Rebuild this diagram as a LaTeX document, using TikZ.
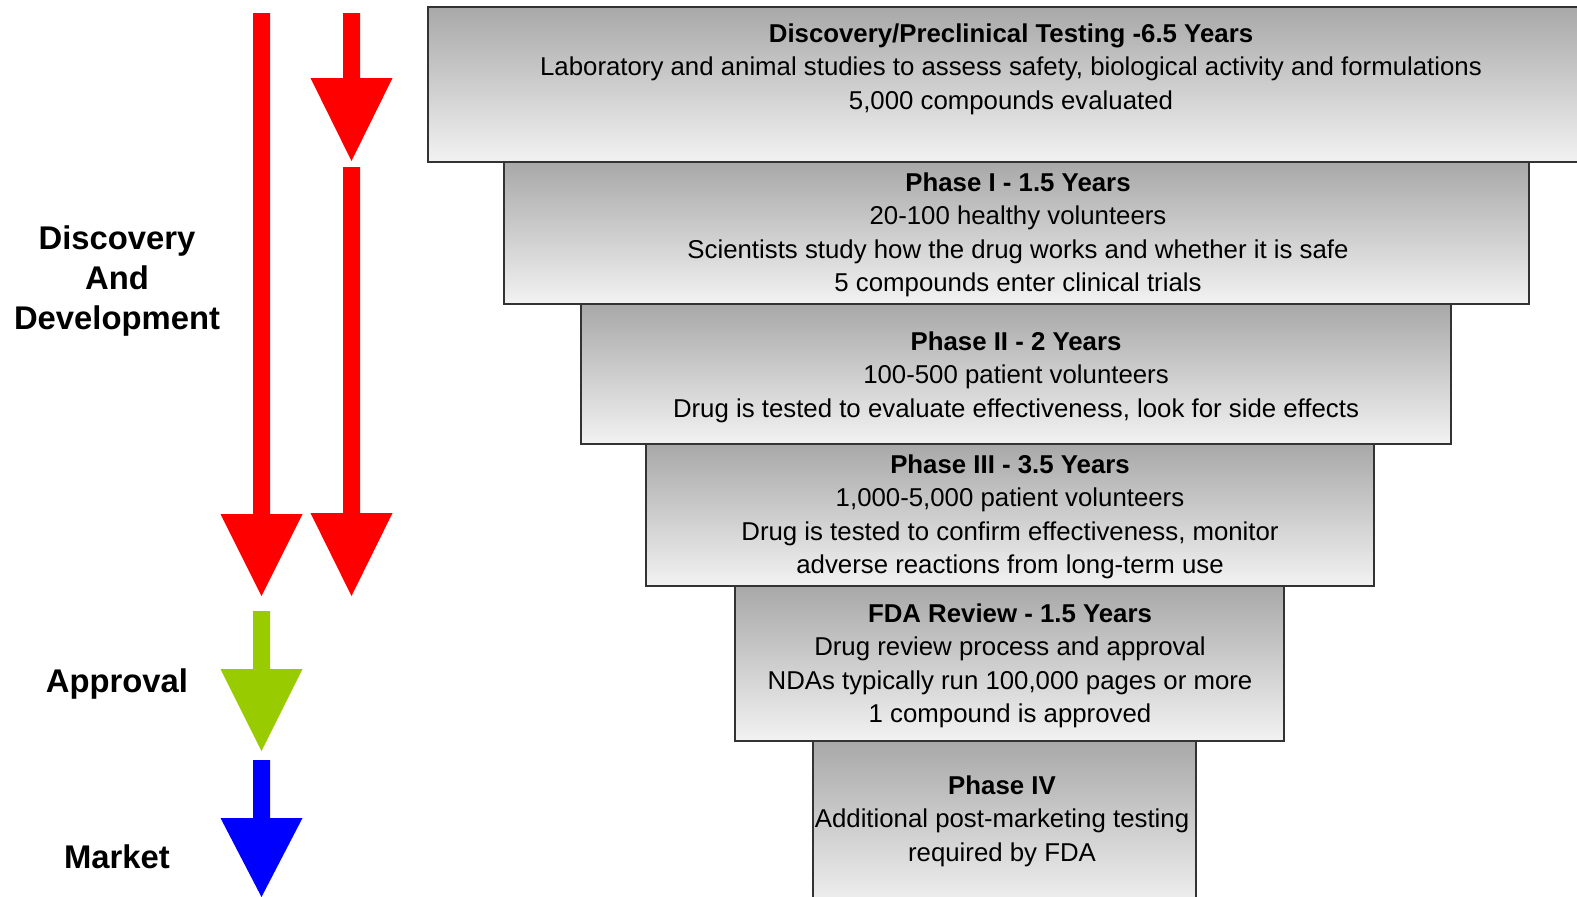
\documentclass[tikz,border=0pt]{standalone}
\usepackage{fontspec}
\setmainfont{Liberation Sans}
\usetikzlibrary{fit}

% block arrow pointing down: colour, x of shaft, top, start of head, tip
\newcommand{\blockarrow}[5]{%
  \fill[#1] (#2-8.5,#3) -- (#2+8.5,#3) -- (#2+8.5,#4) -- (#2+41,#4) -- (#2,#5)
    -- (#2-41,#4) -- (#2-8.5,#4) -- cycle;}

\definecolor{arrowred}{HTML}{FF0000}
\definecolor{arrowgreen}{HTML}{99CC00}
\definecolor{arrowblue}{HTML}{0000FF}

\begin{document}
\begin{tikzpicture}[x=0.5pt, y=-0.5pt,
  phase/.style={draw=black!80, line width=1pt, top color=black!34, bottom color=black!5, inner sep=0pt},
  phasetext/.style={align=center, font=\fontsize{12.9}{16.75}\selectfont},
  stage/.style={align=center, font=\fontsize{16.4}{20}\selectfont\bfseries}]
\clip (0,0) rectangle (1577,896);

% the funnel of phases
\node[phase, fit={(428,7) (1600,162)}] (disc) {};
\node[phase, fit={(504,162) (1529,304)}] (ph1) {};
\node[phase, fit={(581,304) (1451,444)}] (ph2) {};
\node[phase, fit={(646,444) (1374,586)}] (ph3) {};
\node[phase, fit={(735,586) (1284,741)}] (fda) {};
\node[phase, fit={(813,741) (1196,910)}] (ph4) {};

\node[phasetext] (disc-txt) at (1011,69) {\textbf{Discovery/Preclinical Testing -6.5 Years}\\
  Laboratory and animal studies to assess safety, biological activity and formulations\\
  5,000 compounds evaluated};
\node[phasetext] (ph1-txt) at (1018,235) {\textbf{Phase I - 1.5 Years}\\
  20-100 healthy volunteers\\
  Scientists study how the drug works and whether it is safe\\
  5 compounds enter clinical trials};
\node[phasetext] (ph2-txt) at (1016,377) {\textbf{Phase II - 2 Years}\\
  100-500 patient volunteers\\
  Drug is tested to evaluate effectiveness, look for side effects};
\node[phasetext] (ph3-txt) at (1010,517) {\textbf{Phase III - 3.5 Years}\\
  1,000-5,000 patient volunteers\\
  Drug is tested to confirm effectiveness, monitor\\
  adverse reactions from long-term use};
\node[phasetext] (fda-txt) at (1010,666) {\textbf{FDA Review - 1.5 Years}\\
  Drug review process and approval\\
  NDAs typically run 100,000 pages or more\\
  1 compound is approved};
\node[phasetext] (ph4-txt) at (1002,821) {\textbf{Phase IV}\\
  Additional post-marketing testing\\
  required by FDA};

% arrows on the left
\blockarrow{arrowred}{261.5}{13}{514}{596}
\blockarrow{arrowred}{351.5}{13}{78}{161}
\blockarrow{arrowred}{351.5}{167}{513}{596}
\blockarrow{arrowgreen}{261.5}{611}{669}{751}
\blockarrow{arrowblue}{261.5}{760}{818}{897}

% stage labels
\node[stage] (dev) at (117,281) {Discovery\\And\\Development};
\node[stage] (appr) at (117,684) {Approval};
\node[stage] (mkt) at (117,857) {Market};
\end{tikzpicture}
\end{document}
